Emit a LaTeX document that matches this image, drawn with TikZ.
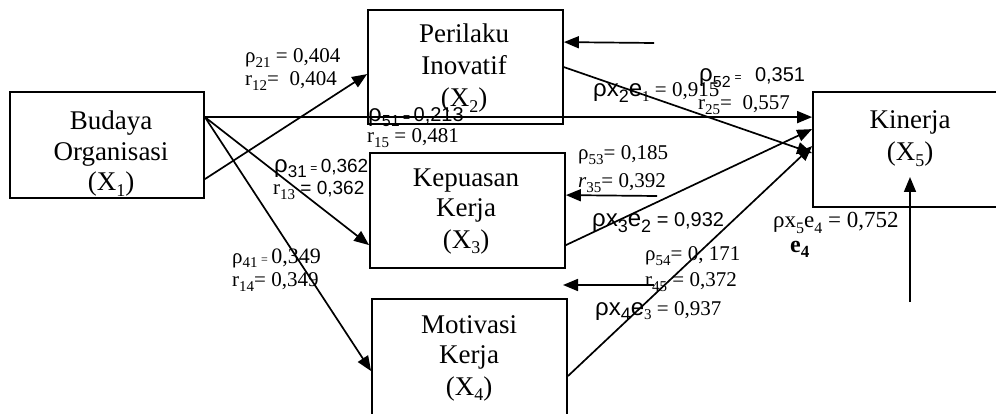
\documentclass[tikz,border=0pt]{standalone}
\usepackage{fontspec}
\setmainfont{Liberation Serif}
\newfontfamily\arial{Liberation Sans}
\usetikzlibrary{arrows.meta,calc}
\newcommand\lo[2][15]{\raisebox{-0.22em}{\fontsize{#1}{#1}\selectfont #2}}
\newcommand\fs[1]{\fontsize{#1}{#1}\selectfont}
\begin{document}
\begin{tikzpicture}[x=1pt,y=-1pt,
  box/.style={draw, line width=1.8pt, inner sep=0pt},
  con/.style={line width=1.7pt, -{Triangle[length=15pt,width=12pt]}},
  bt/.style={anchor=base, inner sep=0pt, font=\fs{27}},
  lab/.style={anchor=base west, inner sep=0pt, font=\fs{21}}]
\useasboundingbox (0,0) rectangle (996,414);
\clip (0,0) rectangle (996,414);
% boxes
\node[box, minimum width=194pt, minimum height=106pt] (x1) at (107,145) {};
\node[box, minimum width=195pt, minimum height=114pt] (x2) at (465.5,67) {};
\node[box, minimum width=195pt, minimum height=115pt] (x3) at (467.5,210.5) {};
\node[box, minimum width=195pt, minimum height=124pt] (x4) at (469.5,361) {};
\node[box, minimum width=194pt, minimum height=115pt] (x5) at (910,149.5) {};
% box texts
\node[bt] (x1a) at (111,130) {Budaya};
\node[bt] (x1b) at (111,161) {Organisasi};
\node[bt] (x1c) at (111,191) {(X\lo[18]{1})};
\node[bt] (x2a) at (464,43) {Perilaku};
\node[bt] (x2b) at (464,75) {Inovatif};
\node[bt] (x2c) at (464,107) {(X\lo[18]{2})};
\node[bt] (x3a) at (466,187) {Kepuasan};
\node[bt] (x3b) at (466,217) {Kerja};
\node[bt] (x3c) at (466,248) {(X\lo[18]{3})};
\node[bt] (x4a) at (469,333) {Motivasi};
\node[bt] (x4b) at (469,363) {Kerja};
\node[bt] (x4c) at (469,395) {(X\lo[18]{4})};
\node[bt] (x5a) at (910,129) {Kinerja};
\node[bt] (x5b) at (910,161) {(X\lo[18]{5})};
% connectors
\draw[con] ([yshift=-26pt]x1.north east) -- ([yshift=-26pt]x5.north west);
\draw[con] ([yshift=-88pt]x1.north east) -- ([yshift=-65pt]x2.north west);
\draw[con] ([yshift=-26pt]x1.north east) -- ([yshift=-93pt]x3.north west);
\draw[con] ([yshift=-26pt]x1.north east) -- ([yshift=-73pt]x4.north west);
\draw[con] ([yshift=-58pt]x2.north east) -- ([yshift=-62pt]x5.north west);
\draw[con] ([yshift=-93pt]x3.north east) -- ([yshift=-38pt]x5.north west);
\draw[con] ([yshift=-78pt]x4.north east) -- ([yshift=-55pt]x5.north west);
% error arrows
\coordinate (e1) at (654,43);
\coordinate (e2) at (657,196);
\coordinate (e3) at (654,285);
\coordinate (e3t) at (563,285);
\coordinate (e4) at (910,302);
\coordinate (e4t) at (910,177);
\draw[con] (e1) -- ([yshift=-33pt]x2.north east);
\draw[con] (e2) -- ([yshift=-43pt]x3.north east);
\draw[con] (e3) -- (e3t);
\draw[con] (e4) -- (e4t);
% labels
\node[lab] (l21a) at (245,63) {ρ\lo{21} = 0,404};
\node[lab] (l21b) at (245,86) {r\lo{12}=\ \ 0,404};
\node[lab] (l51a) at (368,122) {\arial{\fs{24}ρ}\lo[16]{51}\,{\fs{12}=}\,\arial{\fs{20}0,213}};
\node[lab] (l51b) at (367,143) {r\lo{15} = 0,481};
\node[lab] (l31a) at (274,173) {\arial{\fs{24}ρ}\lo[17]{31}\,{\fs{12}=}\,\arial{\fs{19}0,362}};
\node[lab] (l31b) at (273,195) {r\lo{13} \arial{\fs{19}= 0,362}};
\node[lab] (l41a) at (232,263) {ρ\lo{41}\,{\fs{12}=}\,{\fs{22}0,349}};
\node[lab] (l41b) at (232,287) {r\lo{14}= 0,349};
\node[lab] (l52a) at (699,82) {\arial{\fs{24}ρ\lo[16]{52}\,{\fs{12}=}\ \ \fs{20}0,351}};
\node[lab] (l52b) at (698,110) {r\lo{25}=\ \ 0,557};
\node[lab] (le1) at (593,97) {{\arial\fs{24}ρx\lo[18]{2}e}\lo{1} = 0,915};
\node[lab] (l53a) at (578,160) {ρ\lo{53}= 0,185};
\node[lab] (l53b) at (578,188) {\textit{r}\lo{35}= 0,392};
\node[lab] (le2) at (592,227) {\arial{\fs{24}ρx\lo[18]{3}e\lo[18]{2}\fs{20} = 0,932}};
\node[lab] (l54a) at (645,261) {ρ\lo{54}= 0, 171};
\node[lab] (l54b) at (645,287) {r\lo{45} = 0,372};
\node[lab] (le3) at (595,315) {{\arial\fs{24}ρx\lo[18]{4}e}\lo{3} = 0,937};
\node[lab] (le4) at (773,228) {\fs{23}ρx\lo[16]{5}e\lo[16]{4} = 0,752};
\node[lab] (le4b) at (790,252) {\fs{24}\textbf{e\lo[17]{4}}};
\end{tikzpicture}
\end{document}
